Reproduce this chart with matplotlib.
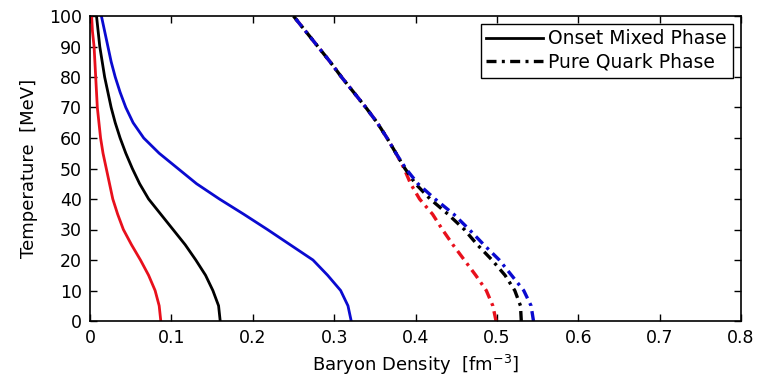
import matplotlib
matplotlib.use('Agg')
from matplotlib import pyplot as plt

# temperature grid [MeV]
temp_low = [0, 5, 10, 15, 20, 25, 30, 35, 40, 45, 50,
            55, 60, 65, 70, 75, 80, 85, 90, 95, 100]

# onset of mixed phase, baryon density [fm^-3]
onset_red = [0.087, 0.085, 0.080, 0.072, 0.062, 0.051, 0.041, 0.034, 0.028, 0.024, 0.020,
             0.016, 0.013, 0.011, 0.009, 0.008, 0.007, 0.006, 0.005, 0.003, 0.002]
onset_black = [0.160, 0.158, 0.151, 0.142, 0.130, 0.117, 0.102, 0.087, 0.072, 0.061, 0.052,
               0.044, 0.037, 0.031, 0.026, 0.022, 0.018, 0.015, 0.012, 0.010, 0.008]
onset_blue = [0.321, 0.317, 0.308, 0.292, 0.274, 0.246, 0.218, 0.189, 0.159, 0.131, 0.108,
              0.085, 0.066, 0.053, 0.044, 0.037, 0.031, 0.026, 0.022, 0.018, 0.014]

# pure quark phase (curves merge above ~50 MeV)
pure_common = [0.376, 0.365, 0.353, 0.339, 0.324, 0.309, 0.295, 0.280, 0.265, 0.250]
pure_red = [0.499, 0.495, 0.487, 0.474, 0.460, 0.446, 0.433, 0.421, 0.405, 0.394, 0.386] + pure_common
pure_black = [0.530, 0.529, 0.522, 0.510, 0.494, 0.476, 0.460, 0.440, 0.418, 0.400, 0.387] + pure_common
pure_blue = [0.545, 0.542, 0.533, 0.518, 0.503, 0.484, 0.466, 0.447, 0.424, 0.403, 0.388] + pure_common

red = '#e8101c'
blue = '#0a0ad0'
dashdot = (0, (3.0, 1.6, 0.9, 1.6))

plt.rcParams['font.family'] = ['DejaVu Sans']

fig = plt.figure(figsize=(7.6, 3.79), dpi=100)
ax = fig.add_axes([90 / 760, 58 / 379, 651 / 760, 305 / 379])

ax.plot(onset_red, temp_low, color=red, lw=2.0)
ax.plot(onset_black, temp_low, color='black', lw=2.0, label='Onset Mixed Phase')
ax.plot(onset_blue, temp_low, color=blue, lw=2.0)

ax.plot(pure_red, temp_low, color=red, lw=2.4, linestyle=dashdot)
ax.plot(pure_black, temp_low, color='black', lw=2.4, linestyle=dashdot, label='Pure Quark Phase')
ax.plot(pure_blue, temp_low, color=blue, lw=2.4, linestyle=dashdot)

ax.set_xlim(0, 0.8)
ax.set_ylim(0, 100)
ax.set_xticks([0, 0.1, 0.2, 0.3, 0.4, 0.5, 0.6, 0.7, 0.8])
ax.set_xticklabels(['0', '0.1', '0.2', '0.3', '0.4', '0.5', '0.6', '0.7', '0.8'])
ax.set_yticks(list(range(0, 101, 10)))

ax.tick_params(direction='in', length=5, width=1, top=True, right=True,
               labelsize=12.5, pad=6)
for spine in ax.spines.values():
    spine.set_linewidth(1.2)

ax.set_xlabel('Baryon Density  [fm$^{-3}$]', fontsize=13, labelpad=4)
ax.set_ylabel('Temperature  [MeV]', fontsize=13, labelpad=8)

leg = ax.legend(loc='upper right', bbox_to_anchor=(0.987, 0.975), borderaxespad=0,
                fontsize=13.5, handlelength=3.0, handletextpad=0.3, labelspacing=0.25,
                borderpad=0.3, fancybox=False, framealpha=1, edgecolor='black')
leg.get_frame().set_linewidth(1.0)

fig.savefig('out.png', dpi=100)
